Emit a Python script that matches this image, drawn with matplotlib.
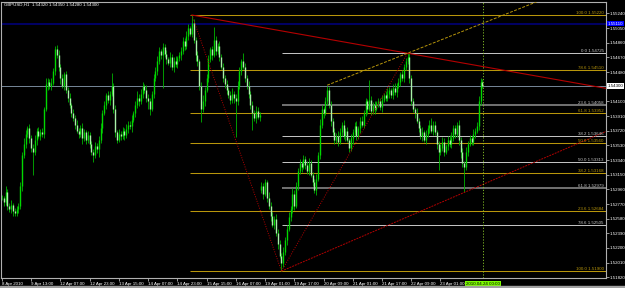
import numpy as np
import matplotlib
matplotlib.use('Agg')
import matplotlib.pyplot as plt
import matplotlib.transforms as mtransforms
from matplotlib.patches import Rectangle

plt.rcParams['font.family'] = ['Liberation Sans', 'DejaVu Sans']

# GBPUSD H1 closes, one per bar
closes = [
    1.5285, 1.5280, 1.5292, 1.5275, 1.5270, 1.5276, 1.5268, 1.5265, 1.5270, 1.5275,
    1.5300, 1.5340, 1.5355, 1.5368, 1.5375, 1.5362, 1.5350, 1.5345, 1.5360, 1.5372,
    1.5365, 1.5370, 1.5368, 1.5400, 1.5432, 1.5435, 1.5430, 1.5434, 1.5450, 1.5478,
    1.5470, 1.5455, 1.5440, 1.5430, 1.5445, 1.5425, 1.5415, 1.5405, 1.5395, 1.5388,
    1.5380, 1.5372, 1.5368, 1.5375, 1.5362, 1.5370, 1.5360, 1.5366, 1.5355, 1.5345,
    1.5340, 1.5352, 1.5348, 1.5360, 1.5375, 1.5395, 1.5405, 1.5418, 1.5412, 1.5420,
    1.5430, 1.5400, 1.5370, 1.5360, 1.5368, 1.5365, 1.5372, 1.5366, 1.5374, 1.5380,
    1.5378, 1.5386, 1.5395, 1.5405, 1.5415, 1.5410, 1.5420, 1.5430, 1.5425, 1.5415,
    1.5410, 1.5400, 1.5420, 1.5440, 1.5450, 1.5462, 1.5475, 1.5470, 1.5480, 1.5472,
    1.5465, 1.5460, 1.5468, 1.5455, 1.5462, 1.5458, 1.5466, 1.5470, 1.5475, 1.5488,
    1.5482, 1.5495, 1.5505, 1.5498, 1.5512, 1.5490, 1.5470, 1.5462, 1.5430, 1.5400,
    1.5410, 1.5425, 1.5440, 1.5465, 1.5478, 1.5470, 1.5490, 1.5475, 1.5482, 1.5468,
    1.5455, 1.5440, 1.5432, 1.5425, 1.5418, 1.5412, 1.5420, 1.5415, 1.5410, 1.5430,
    1.5450, 1.5462, 1.5455, 1.5440, 1.5430, 1.5420, 1.5405, 1.5395, 1.5388, 1.5398,
    1.5390, 1.5393, 1.5300, 1.5290, 1.5305, 1.5285, 1.5275, 1.5262, 1.5250, 1.5258,
    1.5240, 1.5225, 1.5210, 1.5200, 1.5215, 1.5230, 1.5245, 1.5260, 1.5270, 1.5290,
    1.5275, 1.5300, 1.5320, 1.5330, 1.5325, 1.5335, 1.5328, 1.5320, 1.5330, 1.5315,
    1.5305, 1.5295, 1.5310, 1.5340, 1.5380, 1.5400, 1.5395, 1.5410, 1.5425, 1.5405,
    1.5385, 1.5370, 1.5360, 1.5365, 1.5358, 1.5370, 1.5380, 1.5365, 1.5372, 1.5360,
    1.5350, 1.5362, 1.5370, 1.5378, 1.5365, 1.5375, 1.5385, 1.5380, 1.5395, 1.5410,
    1.5400, 1.5412, 1.5398, 1.5405, 1.5400, 1.5408, 1.5410, 1.5403, 1.5412, 1.5418,
    1.5415, 1.5420, 1.5425, 1.5418, 1.5428, 1.5422, 1.5430, 1.5435, 1.5445, 1.5440,
    1.5455, 1.5462, 1.5468, 1.5440, 1.5410, 1.5400, 1.5395, 1.5385, 1.5375, 1.5365,
    1.5370, 1.5360, 1.5368, 1.5375, 1.5380, 1.5372, 1.5380, 1.5370, 1.5355, 1.5345,
    1.5350, 1.5358, 1.5345, 1.5352, 1.5360, 1.5355, 1.5362, 1.5375, 1.5368, 1.5380,
    1.5360, 1.5345, 1.5330, 1.5325, 1.5345, 1.5355, 1.5362, 1.5358, 1.5368, 1.5372,
    1.5378, 1.5410, 1.5435, 1.5430,
]

# wick lengths above / below the body, in pips
hi_wick = [
    4, 3, 9, 5, 3, 6, 2, 4, 5, 3, 6, 4, 8, 5, 3, 6, 4, 5, 7, 3,
    5, 4, 6, 3, 8, 5, 4, 6, 3, 4, 5, 7, 4, 6, 3, 5, 4, 6, 3, 5,
    4, 6, 3, 5, 7, 4, 3, 6, 5, 4, 3, 6, 4, 5, 7, 4, 6, 3, 5, 4,
    17, 4, 5, 3, 6, 4, 5, 3, 7, 4, 5, 6, 3, 5, 8, 4, 6, 5, 3, 6,
    4, 5, 3, 6, 4, 7, 5, 3, 6, 4, 5, 3, 6, 4, 5, 7, 3, 4, 6, 5,
    4, 6, 5, 3, 10, 5, 4, 6, 3, 5, 8, 4, 6, 5, 3, 4, 16, 5, 4, 6,
    3, 5, 4, 6, 3, 5, 7, 4, 5, 6, 4, 3, 11, 5, 4, 6, 3, 5, 4, 6,
    5, 3, 6, 4, 5, 3, 7, 4, 5, 3, 6, 4, 5, 3, 6, 4, 5, 7, 4, 8,
    5, 6, 4, 5, 3, 6, 4, 5, 7, 4, 3, 5, 6, 4, 7, 5, 3, 6, 5, 4,
    6, 3, 5, 4, 7, 5, 3, 6, 4, 5, 3, 6, 4, 5, 7, 3, 5, 6, 4, 5,
    3, 26, 5, 4, 6, 3, 5, 4, 6, 3, 5, 7, 4, 3, 5, 6, 4, 5, 3, 6,
    4, 4, 5, 6, 4, 5, 3, 6, 4, 5, 7, 3, 5, 4, 6, 8, 4, 5, 3, 4,
    5, 6, 4, 3, 5, 6, 9, 4, 5, 3, 6, 4, 5, 3, 6, 4, 5, 3, 6, 4,
    5, 7, 6, 4,
]
lo_wick = [
    3, 5, 4, 6, 3, 5, 7, 4, 3, 5, 4, 6, 3, 5, 4, 6, 5, 31, 4, 6,
    3, 5, 4, 6, 3, 7, 4, 5, 3, 6, 4, 5, 7, 3, 5, 4, 6, 3, 5, 4,
    6, 3, 5, 4, 7, 3, 5, 4, 6, 5, 8, 3, 5, 10, 4, 6, 3, 5, 4, 6,
    3, 5, 6, 4, 3, 5, 4, 6, 3, 5, 4, 7, 3, 5, 4, 6, 3, 5, 4, 6,
    10, 8, 3, 5, 4, 6, 3, 5, 42, 4, 6, 3, 5, 4, 7, 3, 5, 4, 6, 3,
    5, 4, 6, 3, 5, 4, 7, 6, 5, 17, 4, 6, 3, 5, 4, 6, 3, 5, 4, 6,
    3, 5, 4, 6, 3, 5, 4, 7, 46, 5, 4, 6, 3, 5, 4, 6, 5, 22, 4, 6,
    3, 5, 4, 6, 3, 5, 4, 7, 3, 5, 4, 6, 3, 10, 5, 4, 6, 3, 5, 4,
    6, 3, 5, 4, 7, 3, 5, 4, 6, 3, 5, 4, 6, 3, 5, 4, 6, 3, 5, 4,
    7, 3, 5, 4, 6, 3, 5, 4, 6, 3, 5, 4, 7, 3, 5, 4, 6, 3, 5, 4,
    6, 3, 5, 4, 6, 3, 5, 4, 7, 3, 5, 4, 6, 3, 5, 4, 6, 3, 5, 4,
    5, 4, 3, 6, 5, 4, 6, 3, 5, 4, 6, 3, 5, 4, 6, 3, 5, 4, 7, 24,
    5, 4, 6, 3, 5, 4, 6, 3, 5, 4, 6, 8, 5, 33, 4, 6, 3, 5, 4, 6,
    3, 5, 4, 3,
]
gap_bar = 142          # Monday open after the weekend gap
gap_open = 1.5295

time_labels = ['8 Apr 2010', '9 Apr 13:00', '12 Apr 07:00', '12 Apr 23:00',
               '13 Apr 15:00', '14 Apr 07:00', '14 Apr 23:00', '15 Apr 15:00',
               '16 Apr 07:00', '19 Apr 01:00', '19 Apr 17:00', '20 Apr 09:00',
               '21 Apr 01:00', '21 Apr 17:00', '22 Apr 09:00', '23 Apr 01:00']
time_ticks = [0, 16, 32, 48, 64, 80, 96, 112, 128, 144, 160, 176, 192, 208, 224, 240]
price_ticks = [1.55240, 1.55050, 1.54860, 1.54670, 1.54480, 1.54100, 1.53910,
               1.53720, 1.53530, 1.53340, 1.53150, 1.52960, 1.52770, 1.52580,
               1.52390, 1.52200, 1.52010, 1.51820]

swing_high = (104, 1.55220)
swing_low = (153, 1.51900)
swing_peak = (222, 1.54725)
support_pt = (253, 1.52920)
channel_start = (178, 1.54310)
fib_ratios = [0.0, 23.6, 38.2, 50.0, 61.8, 78.6, 100.0]
bid = 1.54300
blue_level = 1.55110
vline_bar = 263.5
vline_text = '2010.04.24 00:00'
header = 'GBPUSD,H1  1.54320 1.54350 1.54280 1.54300'

GOLD = '#B8960B'
RED = '#B40000'
FS = 3.2

c = np.array(closes)
o = np.array([closes[0]] + closes[:-1])
o[gap_bar] = gap_open
h = np.maximum(o, c) + np.array(hi_wick) * 0.0001
l = np.minimum(o, c) - np.array(lo_wick) * 0.0001
x = np.arange(len(c))

fig = plt.figure(figsize=(6.25, 2.88), dpi=100, facecolor='black')
ax = fig.add_axes([1 / 625, 10 / 288, 605 / 625, 276 / 288], facecolor='black')
xmin, xmax = -0.5, 330.6
ymin, ymax = 1.51811, 1.55389
ax.set_xlim(xmin, xmax)
ax.set_ylim(ymin, ymax)

# horizontal objects
ax.axhline(blue_level, color='#000080', lw=1.1, zorder=1)
ax.axhline(bid, color='#778899', lw=0.7, zorder=1)

rng = swing_high[1] - swing_low[1]
for r in fib_ratios:
    p = swing_low[1] + r / 100 * rng
    ax.hlines(p, swing_high[0] - 0.8, xmax, color=GOLD, lw=0.75, zorder=1)
rng2 = swing_peak[1] - swing_low[1]
for r in fib_ratios[:-1]:
    p = swing_peak[1] - r / 100 * rng2
    thick = r in (23.6, 61.8)
    ax.hlines(p, swing_low[0] + 0.5, xmax, color='#7A7A7A' if thick else '#C8C8C8',
              lw=1.3 if thick else 0.7, zorder=1)

# candles
ax.vlines(x, l, h, color='#00B400', lw=0.6, zorder=3)
up = c >= o
ax.vlines(x[up], o[up], c[up], color='#00D800', lw=1.0, zorder=4)
ax.vlines(x[~up], c[~up], o[~up], color='#A8F0A8', lw=1.0, zorder=4)

def extend(p0, p1, xe):
    return p0[1] + (p1[1] - p0[1]) * (xe - p0[0]) / (p1[0] - p0[0])

ax.plot([swing_high[0], xmax], [swing_high[1], extend(swing_high, swing_peak, xmax)],
        color=RED, lw=0.8, zorder=5)
ax.plot([swing_low[0], xmax], [swing_low[1], extend(swing_low, support_pt, xmax)],
        color=RED, lw=0.7, ls=(0, (2, 1)), zorder=5)
ax.plot([swing_high[0], swing_low[0]], [swing_high[1], swing_low[1]],
        color=RED, lw=0.7, ls=(0, (1, 1.5)), zorder=5)
ax.plot([swing_low[0], swing_peak[0]], [swing_low[1], swing_peak[1]],
        color=RED, lw=0.7, ls=(0, (1, 1.5)), zorder=5)
ax.plot([channel_start[0], xmax], [channel_start[1], extend(channel_start, swing_peak, xmax)],
        color=GOLD, lw=0.7, ls=(0, (3, 1.5)), zorder=5)
ax.axvline(vline_bar, color='#8CCB2A', lw=0.6, ls=(0, (1.5, 2)), zorder=5)

# fib labels
tr = mtransforms.blended_transform_factory(ax.transAxes, ax.transData)
for r in fib_ratios[1:]:
    p = swing_low[1] + r / 100 * rng
    ax.text(0.996, p, f'{r:.1f} {p:.5f}', transform=tr, ha='right', va='bottom',
            color=GOLD, fontsize=FS, zorder=6)
for r in fib_ratios[:-1]:
    p = swing_peak[1] - r / 100 * rng2
    ax.text(0.996, p, f'{r:.1f} {p:.5f}', transform=tr, ha='right', va='bottom',
            color='#C8C8C8', fontsize=FS, zorder=6)
ax.text(0.996, swing_low[1], f'100.0 {swing_low[1]:.5f}', transform=tr, ha='right',
        va='bottom', color=GOLD, fontsize=FS, zorder=6)

# axes styling
for s in ['top', 'left', 'right', 'bottom']:
    ax.spines[s].set_color('#B0B0B0')
    ax.spines[s].set_linewidth(0.8)
ax.yaxis.tick_right()
ax.set_yticks(price_ticks)
ax.set_yticklabels([f'{p:.5f}' for p in price_ticks])
ax.set_xticks(time_ticks)
ax.set_xticklabels(time_labels)
ax.tick_params(axis='both', colors='#B0B0B0', labelcolor='white', labelsize=FS,
               length=2, width=0.6, pad=0.8)
plt.setp(ax.get_xticklabels(), ha='left')

# price / time boxes
ax.text(1.003, bid, f'{bid:.5f}', transform=tr, ha='left', va='center', fontsize=FS,
        color='black', bbox=dict(boxstyle='square,pad=0.2', fc='white', ec='none'),
        clip_on=False, zorder=7)
ax.text(1.003, blue_level, f'{blue_level:.5f}', transform=tr, ha='left', va='center',
        fontsize=FS, color='white',
        bbox=dict(boxstyle='square,pad=0.2', fc='#0000FF', ec='none'),
        clip_on=False, zorder=7)
trx = mtransforms.blended_transform_factory(ax.transData, ax.transAxes)
ax.text(vline_bar, -0.016, vline_text, transform=trx, ha='center', va='top',
        fontsize=FS, color='black',
        bbox=dict(boxstyle='square,pad=0.25', fc='#7CFC00', ec='none'),
        clip_on=False, zorder=7)

fig.text(4 / 625, 1 - 5 / 288, header, color='white', fontsize=FS, ha='left', va='center')
fig.patches.append(Rectangle((0, 0), 1, 2 / 288, transform=fig.transFigure,
                             color='#A0A0A0', zorder=0))

fig.savefig('out.png', dpi=100, facecolor='black')
